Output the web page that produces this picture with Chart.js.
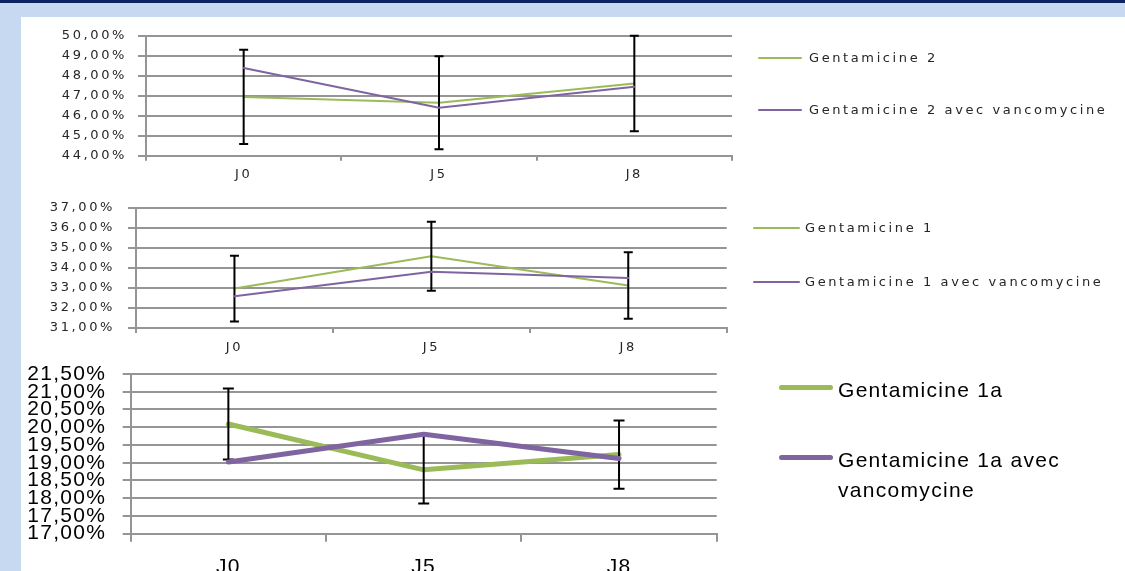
<!DOCTYPE html>
<html>
<head>
<meta charset="utf-8">
<script src="https://cdn.jsdelivr.net/npm/chart.js@4.4.0/dist/chart.umd.min.js"></script>
<style>
  html, body { margin: 0; padding: 0; }
  body { width: 1125px; height: 571px; overflow: hidden; position: relative; background: #c6d9f1; }
  #band { position: absolute; left: 0; top: 0; width: 1125px; height: 3px; background: #0b2361; }
  #panel { position: absolute; left: 21px; top: 17px; right: 0; bottom: 0; background: #fff; }
  canvas { position: absolute; left: 21px; }
  .leg-line, .leg-text { position: absolute; white-space: nowrap; }
</style>
</head>
<body>
<div id="band"></div>
<div id="panel"></div>
<canvas id="chart1" width="1104" height="170" style="top:17px"></canvas>
<canvas id="chart2" width="1104" height="170" style="top:187px"></canvas>
<canvas id="chart3" width="1104" height="246" style="top:345px"></canvas>
<div id="legends"></div>
<script>
const days = ['J0', 'J5', 'J8'];

// top chart
const genta2 = [46.94, 46.65, 47.61];
const genta2Vanco = [48.39, 46.40, 47.45];
const genta2Err = [2.36, 2.33, 2.39];
const names2 = ['Gentamicine 2', 'Gentamicine 2 avec vancomycine'];
const yRange2 = [44, 50, 1];

// middle chart
const genta1 = [32.97, 34.58, 33.12];
const genta1Vanco = [32.59, 33.81, 33.50];
const genta1Err = [1.64, 1.72, 1.66];
const names1 = ['Gentamicine 1', 'Gentamicine 1 avec vancomycine'];
const yRange1 = [31, 37, 1];

// bottom chart
const genta1a = [20.09, 18.80, 19.23];
const genta1aVanco = [19.02, 19.80, 19.12];
const genta1aErr = [1.00, 0.95, 0.96];
const names1a = ['Gentamicine 1a', 'Gentamicine 1a avec vancomycine'];
const yRange1a = [17, 21.5, 0.5];

const GREEN = '#9bbb59';
const PURPLE = '#8064a2';
const GRID = '#959595';

// error bars drawn right after the green series, so purple stays on top
const errorBars = {
    id: 'errorBars',
    afterDatasetDraw(chart, args, opts) {
        if (args.index !== 0 || !opts.errors) return;
        const values = chart.data.datasets[0].data;
        const y = chart.scales.y;
        const ctx = chart.ctx;
        ctx.save();
        ctx.strokeStyle = '#000';
        ctx.lineWidth = opts.width;
        args.meta.data.forEach((pt, i) => {
            const top = y.getPixelForValue(values[i] + opts.errors[i]);
            const bot = y.getPixelForValue(values[i] - opts.errors[i]);
            ctx.beginPath();
            ctx.moveTo(pt.x, top);
            ctx.lineTo(pt.x, bot);
            ctx.moveTo(pt.x - opts.cap, top);
            ctx.lineTo(pt.x + opts.cap, top);
            ctx.moveTo(pt.x - opts.cap, bot);
            ctx.lineTo(pt.x + opts.cap, bot);
            ctx.stroke();
        });
        ctx.restore();
    }
};

const spacing = {
    id: 'spacing',
    beforeDraw(chart, args, opts) {
        chart.ctx.letterSpacing = opts.value || '0px';
    }
};

function pct(v) {
    return v.toFixed(2).replace('.', ',') + '%';
}

function makeChart(id, s) {
    const ctx = document.getElementById(id).getContext('2d');
    return new Chart(ctx, {
        type: 'line',
        data: {
            labels: days,
            datasets: [
                {
                    label: s.names[0],
                    data: s.a,
                    borderColor: GREEN,
                    borderWidth: s.lineWidth,
                    borderCapStyle: 'round',
                    borderJoinStyle: 'round',
                    pointRadius: 0,
                    tension: 0,
                    order: 1
                },
                {
                    label: s.names[1],
                    data: s.b,
                    borderColor: PURPLE,
                    borderWidth: s.lineWidth,
                    borderCapStyle: 'round',
                    borderJoinStyle: 'round',
                    pointRadius: 0,
                    tension: 0,
                    order: 0
                }
            ]
        },
        options: {
            responsive: false,
            animation: false,
            devicePixelRatio: 1,
            layout: { padding: { left: 0, top: s.padTop, right: s.padRight, bottom: 0 } },
            scales: {
                x: {
                    offset: true,
                    grid: { display: true, offset: true, drawOnChartArea: false, tickLength: s.xTick, color: GRID, lineWidth: 2 },
                    border: { display: true, color: GRID, width: 2 },
                    ticks: { font: s.font, color: s.textColor, padding: s.xPad, maxRotation: 0 },
                    afterFit: scale => { scale.height = s.xHeight; }
                },
                y: {
                    min: s.range[0],
                    max: s.range[1],
                    grid: { color: GRID, lineWidth: 2, tickLength: 8 },
                    border: { display: true, color: GRID, width: 2 },
                    ticks: {
                        stepSize: s.range[2],
                        autoSkip: false,
                        font: s.font,
                        color: s.textColor,
                        padding: s.yPad,
                        callback: v => pct(v)
                    },
                    afterFit: scale => { scale.width = s.yWidth; }
                }
            },
            plugins: {
                legend: { display: false },
                tooltip: { enabled: false },
                errorBars: { errors: s.err, width: 2, cap: s.cap },
                spacing: { value: s.letter }
            }
        },
        plugins: [errorBars, spacing]
    });
}

const smallFont = { family: 'DejaVu Sans', size: 13, lineHeight: 1.2 };
const bigFont = { family: 'Liberation Sans', size: 21, lineHeight: 1.2 };

const chart1 = makeChart('chart1', {
    a: genta2, b: genta2Vanco, err: genta2Err, names: names2, range: yRange2,
    lineWidth: 2, font: smallFont, textColor: '#262626', letter: '2.6px',
    padTop: 14.7, padRight: 393, yWidth: 125, xHeight: 31.3,
    xTick: 5, xPad: 6, yPad: 11, cap: 4.5
});

const chart2 = makeChart('chart2', {
    a: genta1, b: genta1Vanco, err: genta1Err, names: names1, range: yRange1,
    lineWidth: 2, font: smallFont, textColor: '#262626', letter: '2.6px',
    padTop: 13, padRight: 398.3, yWidth: 115, xHeight: 29,
    xTick: 5, xPad: 6.5, yPad: 13, cap: 4.5
});

const chart3 = makeChart('chart3', {
    a: genta1a, b: genta1aVanco, err: genta1aErr, names: names1a, range: yRange1a,
    lineWidth: 5, font: bigFont, textColor: '#000', letter: '1.3px',
    padTop: 23, padRight: 408.3, yWidth: 109.7, xHeight: 57.3,
    xTick: 8, xPad: 13, yPad: 16.4, cap: 5.5
});

// legends on the right, built from the datasets
function buildLegend(chart, L) {
    const box = document.getElementById('legends');
    chart.data.datasets.forEach((ds, i) => {
        const line = document.createElement('div');
        line.className = 'leg-line';
        line.style.left = L.lineX + 'px';
        line.style.width = L.lineW + 'px';
        line.style.top = (L.ys[i] - L.thick / 2) + 'px';
        line.style.height = L.thick + 'px';
        line.style.background = ds.borderColor;
        line.style.borderRadius = (L.thick / 2) + 'px';
        box.appendChild(line);

        const text = document.createElement('div');
        text.className = 'leg-text';
        text.textContent = ds.label;
        text.style.left = L.textX + 'px';
        text.style.top = (L.ys[i] - L.lineH / 2 + L.shift) + 'px';
        text.style.font = L.font;
        text.style.lineHeight = L.lineH + 'px';
        text.style.letterSpacing = L.letter;
        text.style.color = L.color;
        if (L.wrap) {
            text.style.whiteSpace = 'normal';
            text.style.width = L.wrap + 'px';
        }
        box.appendChild(text);
    });
}

buildLegend(chart1, { ys: [57.7, 110], lineX: 757.7, lineW: 44, textX: 809, thick: 2,
    font: '13px "DejaVu Sans"', lineH: 16, shift: 0, letter: '2.6px', color: '#262626' });
buildLegend(chart2, { ys: [227.7, 282.3], lineX: 752.7, lineW: 47, textX: 805, thick: 2,
    font: '13px "DejaVu Sans"', lineH: 16, shift: 0, letter: '2.6px', color: '#262626' });
buildLegend(chart3, { ys: [387.3, 457.3], lineX: 779.3, lineW: 54, textX: 838, thick: 5,
    font: '21px "Liberation Sans"', lineH: 30, shift: 3, letter: '1.3px', color: '#000', wrap: 250 });
</script>
</body>
</html>
